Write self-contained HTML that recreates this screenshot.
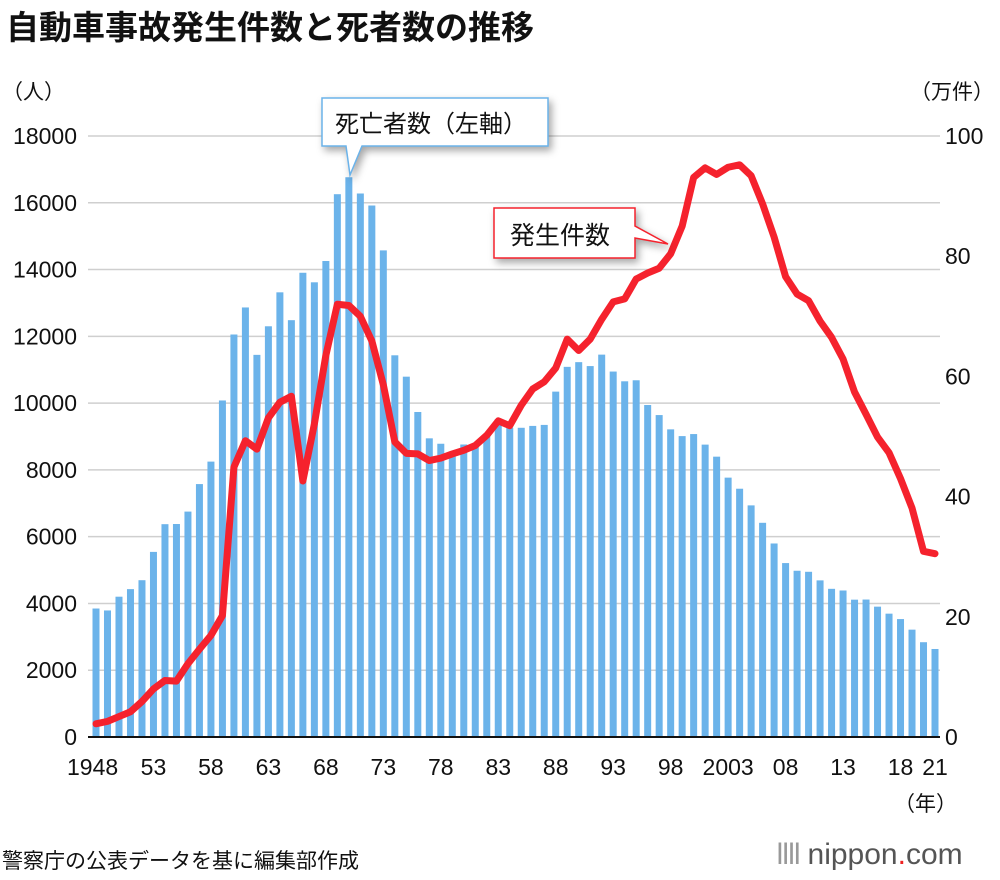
<!DOCTYPE html>
<html><head><meta charset="utf-8">
<style>
body{margin:0;background:#fff;font-family:"Liberation Sans","Noto Sans CJK JP",sans-serif;}
#wrap{position:relative;width:1000px;height:880px;overflow:hidden;}
.t{position:absolute;color:#111;white-space:nowrap;}
</style></head><body>
<div id="wrap">
<div class="t" style="left:6px;top:1px;font-size:33px;font-weight:bold;">自動車事故発生件数と死者数の推移</div>
<div class="t" style="left:2px;top:76px;font-size:21px;">（人）</div>
<div class="t" style="left:910px;top:76px;font-size:21px;">（万件）</div>
<div class="t" style="left:894px;top:788px;font-size:21px;">（年）</div>
<div class="t" style="left:2px;top:845px;font-size:21px;">警察庁の公表データを基に編集部作成</div>
<div class="t" style="left:776px;top:838px;font-size:30px;color:#555;"><span style="letter-spacing:-2px;color:#999">ǀǀǀǀ</span> nippon<span style="color:#e22">.</span>com</div>
<svg id="chart" width="1000" height="880" style="position:absolute;left:0;top:0"></svg>
</div>
<script>
const years=[];for(let y=1948;y<=2021;y++)years.push(y);
const deaths=[3848,3790,4202,4429,4696,5544,6374,6379,6751,7575,8248,10079,12055,12865,11445,12301,13318,12484,13904,13618,14256,16257,16765,16278,15918,14574,11432,10792,9734,8945,8783,8466,8760,8719,9073,9520,9262,9261,9317,9347,10344,11086,11227,11109,11452,10945,10653,10684,9943,9642,9214,9012,9073,8757,8396,7768,7436,6937,6415,5796,5209,4979,4948,4691,4438,4388,4113,4117,3904,3694,3532,3215,2839,2636];
const accidents=[2.2,2.6,3.4,4.2,5.9,8.0,9.4,9.3,12.2,14.6,16.9,20.2,44.9,49.3,47.9,53.1,55.7,56.7,42.6,52.1,63.5,72.0,71.8,70.0,65.9,58.6,49.1,47.2,47.1,46.0,46.4,47.1,47.7,48.5,50.2,52.6,51.8,55.2,57.9,59.1,61.4,66.2,64.3,66.2,69.5,72.4,72.9,76.2,77.2,78.0,80.4,85.0,93.1,94.7,93.6,94.8,95.2,93.4,88.7,83.2,76.6,73.7,72.6,69.2,66.5,62.9,57.4,53.7,49.9,47.3,43.0,38.1,30.9,30.5];
const leftTicks=[0,2000,4000,6000,8000,10000,12000,14000,16000,18000];
const rightTicks=[0,20,40,60,80,100];
const xLabels=[[1948,"1948"],[1953,"53"],[1958,"58"],[1963,"63"],[1968,"68"],[1973,"73"],[1978,"78"],[1983,"83"],[1988,"88"],[1993,"93"],[1998,"98"],[2003,"2003"],[2008,"08"],[2013,"13"],[2018,"18"],[2021,"21"]];
const svg=document.getElementById('chart');const NS="http://www.w3.org/2000/svg";
const X0=96,X1=935,Y0=737,Y1=136;
const xs=y=>X0+(y-1948)*(X1-X0)/73;
const yl=v=>Y0-v/18000*(Y0-Y1);
const yr=v=>Y0-v/100*(Y0-Y1);
function mk(tag,at){const e=document.createElementNS(NS,tag);for(const k in at)e.setAttribute(k,at[k]);svg.appendChild(e);return e;}
leftTicks.forEach(v=>{
 if(v>0){const g=mk('line',{x1:88,x2:940,y1:yl(v),y2:yl(v),stroke:'#cfcfcf','stroke-width':1.5});
 
 }
 const t=mk('text',{x:77,y:yl(v)+8,'text-anchor':'end','font-size':23,fill:'#111'});t.textContent=v;
 
 
});
rightTicks.forEach(v=>{const t=mk('text',{x:945,y:yr(v)+8,'font-size':23,fill:'#111'});t.textContent=v;
 
 });
years.forEach((y,i)=>{const r=mk('rect',{x:xs(y)-3.5,y:yl(deaths[i]),width:7,height:Y0-yl(deaths[i]),fill:'#6bb3ea'});
 
 });
const ax=mk('line',{x1:88,x2:940,y1:Y0,y2:Y0,stroke:'#111','stroke-width':2});


xLabels.forEach(([y,s])=>{const t=mk('text',{x:xs(y),y:775,'text-anchor':y==1948?'start':'middle','font-size':23,fill:'#111'});
 if(y==1948)t.setAttribute('x',67);
 t.textContent=s;
 
 });
const pl=mk('polyline',{points:years.map((y,i)=>xs(y)+','+yr(accidents[i])).join(' '),fill:'none',stroke:'#f5222d','stroke-width':7,'stroke-linejoin':'round','stroke-linecap':'round'});


const d=mk('path',{d:'M322,98 H548 V146 H362 L350,175 L346,146 H322 Z',fill:'#fff',stroke:'#6bb3ea','stroke-width':1.5,filter:'drop-shadow(3px 4px 4px rgba(0,0,0,0.35))'});


const dt=mk('text',{x:335,y:132,'font-size':24,fill:'#111'});dt.textContent='死亡者数（左軸）';


const a=mk('path',{d:'M494,208 H635 V226 L668,244 L635,238 V258 H494 Z',fill:'#fff',stroke:'#f5222d','stroke-width':1.5,filter:'drop-shadow(3px 4px 4px rgba(0,0,0,0.35))'});


const at=mk('text',{x:510,y:244,'font-size':25,fill:'#111'});at.textContent='発生件数';


</script>
</body></html>
